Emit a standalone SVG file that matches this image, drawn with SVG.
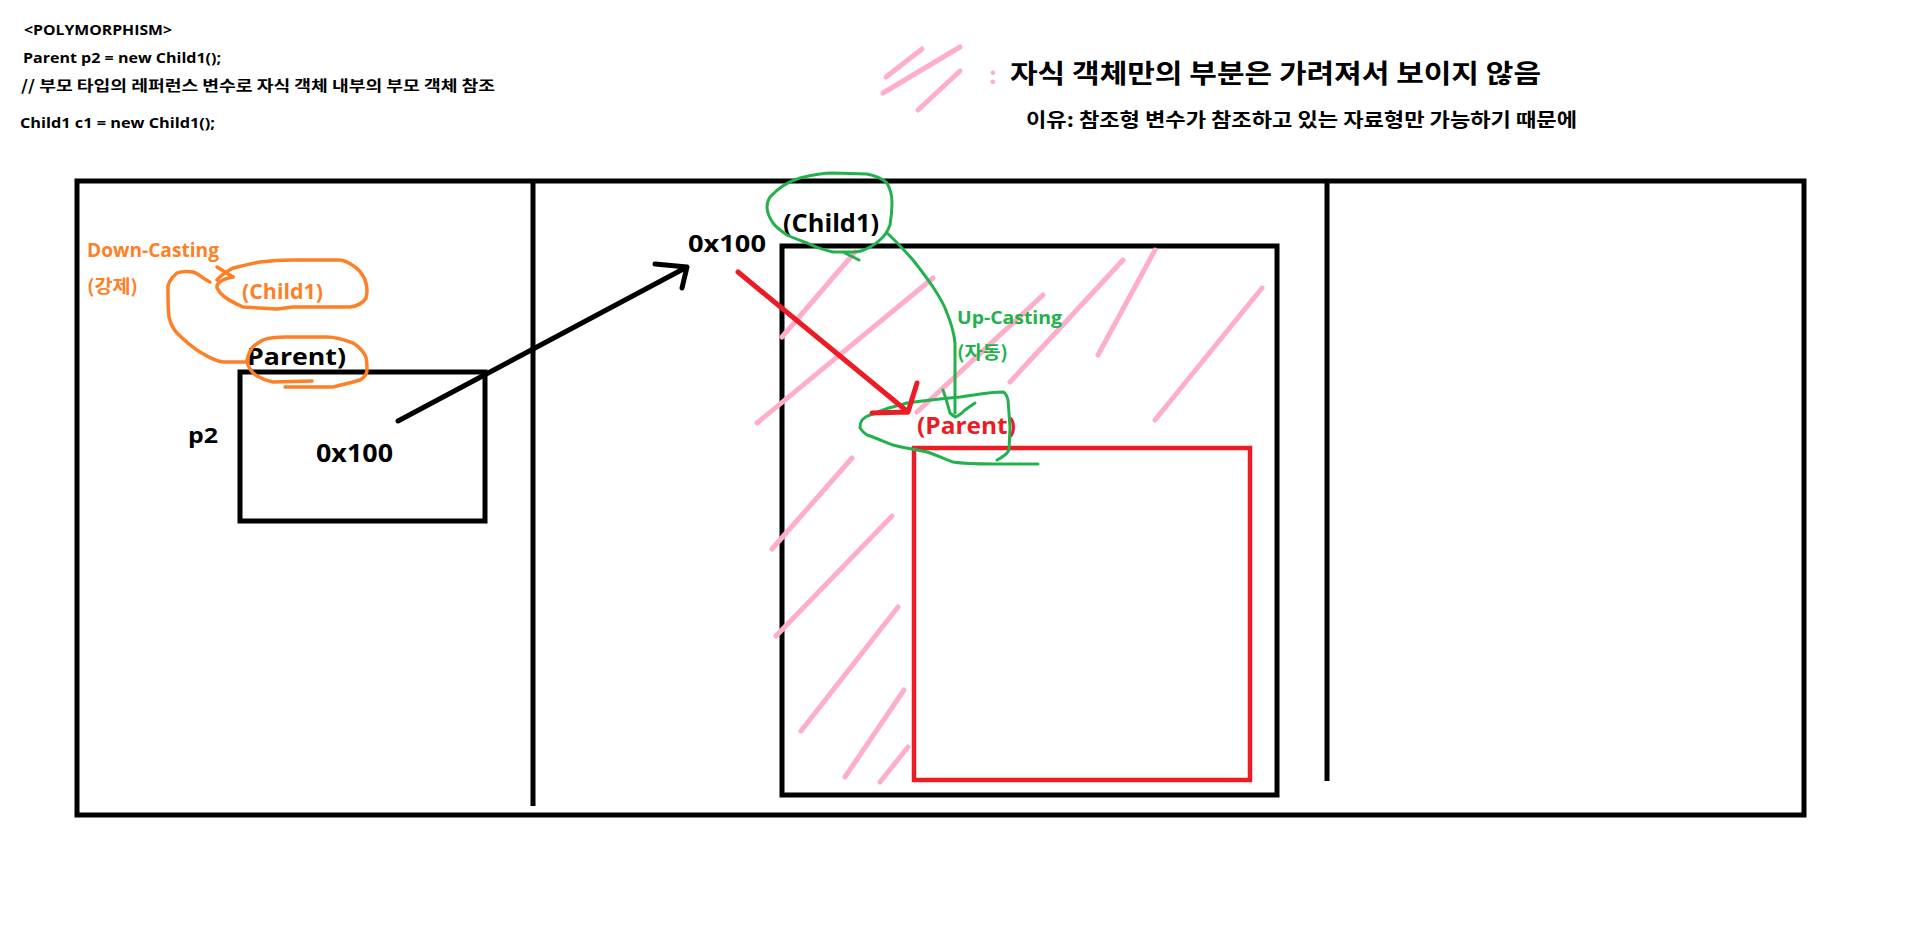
<svg xmlns="http://www.w3.org/2000/svg" width="1914" height="930" viewBox="0 0 1914 930">
<style>
.t{font-family:"Open Sans","Noto Sans CJK KR",sans-serif;font-weight:bold}
.k{font-family:"Noto Sans CJK KR","Open Sans",sans-serif;font-weight:bold}
.blk{fill:none;stroke:#000;stroke-width:5}
.red{fill:none;stroke:#ED1C24;stroke-width:5}
.pink{fill:none;stroke:#FFAEC9;stroke-width:5;stroke-linecap:round}
.grn{fill:none;stroke:#22B14C;stroke-width:3;stroke-linecap:round;stroke-linejoin:round}
.org{fill:none;stroke:#FF7F27;stroke-width:3.5;stroke-linecap:round;stroke-linejoin:round}
</style>
<rect width="1914" height="930" fill="#fff"/>
<g id="header">
<text class="t" x="24" y="35" font-size="15" textLength="148" lengthAdjust="spacingAndGlyphs">&lt;POLYMORPHISM&gt;</text>
<text class="t" x="23" y="63" font-size="15" textLength="198" lengthAdjust="spacingAndGlyphs">Parent p2 = new Child1();</text>
<text class="k" x="21" y="91" font-size="15" textLength="474" lengthAdjust="spacingAndGlyphs">// 부모 타입의 레퍼런스 변수로 자식 객체 내부의 부모 객체 참조</text>
<text class="t" x="20" y="128" font-size="15" textLength="195" lengthAdjust="spacingAndGlyphs">Child1 c1 = new Child1();</text>
</g>
<g id="legend">
<path class="pink" d="M886 77 L922 49 M883 93 L960 47 M918 110 L960 71"/>
<text class="k" x="989" y="84" font-size="24" fill="#FFAEC9">:</text>
<text class="k" x="1010" y="83" font-size="26" textLength="531" lengthAdjust="spacingAndGlyphs">자식 객체만의 부분은 가려져서 보이지 않음</text>
<text class="k" x="1026" y="127" font-size="19" textLength="551" lengthAdjust="spacingAndGlyphs">이유: 참조형 변수가 참조하고 있는 자료형만 가능하기 때문에</text>
</g>
<g id="memory-frame">
<rect class="blk" x="77" y="181" width="1727" height="634"/>
<line class="blk" x1="533" y1="181" x2="533" y2="806"/>
<line class="blk" x1="1327" y1="181" x2="1327" y2="781"/>
</g>
<g id="p2-box">
<rect class="blk" x="240" y="372" width="245" height="149"/>
<text class="t" x="188" y="443" font-size="22" textLength="30" lengthAdjust="spacingAndGlyphs">p2</text>
<text class="t" x="316" y="462" font-size="25" textLength="77" lengthAdjust="spacingAndGlyphs">0x100</text>
<text class="t" x="247" y="365" font-size="23" textLength="99" lengthAdjust="spacingAndGlyphs">Parent)</text>
</g>
<g id="down-casting">
<text class="t" x="87" y="257" font-size="19" fill="#FF7F27" textLength="132" lengthAdjust="spacingAndGlyphs">Down-Casting</text>
<text class="k" x="87" y="293" font-size="18" fill="#FF7F27" textLength="51" lengthAdjust="spacingAndGlyphs">(강제)</text>
<text class="t" x="242" y="299" font-size="22" fill="#FF7F27" textLength="81" lengthAdjust="spacingAndGlyphs">(Child1)</text>
<path class="org" d="M217 267 L233 277"/>
<path class="org" d="M233 277 C222 279 216 283 217 288 C220 294 225 299 243 307 L277 309 L293 307 L350 307 C358 306 363 303 366 298 C368 290 367 285 365 280 C362 273 358 269 355 267 C348 262 342 260 340 260 L293 260 C278 260 268 261 260 262 C248 264 238 267 233 268 C226 272 220 276 217 280"/>
<path class="org" d="M210 282 C203 279 198 273 193 272 C187 271 182 271 177 273 C170 279 167 285 168 290 C168 300 168 310 169 317 C171 325 173 329 177 333 C185 341 192 347 200 352 C208 357 215 361 223 362 L247 362"/>
<path class="org" d="M285 387 L333 387 C345 384 354 382 360 380 C365 377 367 374 367 370 C367 363 367 358 365 355 C362 350 358 346 353 343 C345 340 336 337 327 337 L287 337 C276 337 268 338 263 340 C258 343 254 345 252 348 C249 353 247 357 247 362 C249 369 252 373 257 376 C262 379 267 381 273 382 L312 381"/>
</g>
<g id="child1-object">
<rect class="blk" x="782" y="246" width="495" height="549"/>
<text class="t" x="783" y="232" font-size="25" textLength="96" lengthAdjust="spacingAndGlyphs">(Child1)</text>
<text class="t" x="688" y="252" font-size="24" textLength="78" lengthAdjust="spacingAndGlyphs">0x100</text>
</g>
<g id="hatching">
<path class="pink" d="M855 252 L782 337 M933 278 L757 423 M1043 295 L917 412 M1123 260 L1010 382 M1155 250 L1098 355 M1262 288 L1155 420 M852 458 L772 549 M892 516 L776 636 M898 607 L801 731 M904 690 L845 777 M908 747 L880 782"/>
</g>
<g id="parent-object">
<rect x="914" y="448" width="336" height="332" fill="none" stroke="#ED1C24" stroke-width="4.5"/>
<text class="t" x="917" y="434" font-size="24" fill="#ED1C24" textLength="99" lengthAdjust="spacingAndGlyphs">(Parent)</text>
</g>
<g id="up-casting">
<text class="t" x="957" y="324" font-size="18" fill="#22B14C" textLength="105" lengthAdjust="spacingAndGlyphs">Up-Casting</text>
<text class="k" x="957" y="359" font-size="18" fill="#22B14C" textLength="51" lengthAdjust="spacingAndGlyphs">(자동)</text>
<path class="grn" d="M770 197 C780 186 790 181 800 178 C812 175 822 173 833 173 L867 174 C877 176 883 179 887 183 C891 190 892 196 892 203 C892 212 891 219 890 225 C888 230 886 234 883 237 C878 242 873 246 868 248 C863 251 858 252 853 252 L833 252 C824 250 815 247 807 243 C800 240 793 238 787 235 C781 231 776 227 773 223 C769 217 767 212 767 207 C767 203 768 200 770 197 Z"/>
<path class="grn" d="M845 253 L859 260"/>
<path class="grn" d="M887 233 C897 242 905 251 913 260 C920 269 927 278 933 287 C939 296 944 304 947 313 C951 323 954 333 955 343 L955 413"/>
<path class="grn" d="M943 390 C946 398 948 406 950 413 L955 417 C959 416 962 413 965 410 C969 407 972 405 975 403"/>
<path class="grn" d="M997 460 C1003 457 1007 454 1009 450 L1010 427 L1008 400 C1007 396 1006 393 1003 392 C990 392 975 395 960 397 C940 399 922 401 907 403 C894 406 882 410 870 415 C866 416 864 418 862 420 C860 423 860 426 860 428 C862 431 864 433 867 435 C876 438 885 442 893 445 C905 448 917 450 927 452 C936 455 945 459 953 462 C966 464 980 464 993 464 L1038 464"/>
</g>
<g id="connectors">
<path class="blk" stroke-linecap="round" stroke-linejoin="round" d="M398 421 L687 267 M655 264 L687 267 L682 288"/>
<path class="red" stroke-linecap="round" stroke-linejoin="round" d="M738 272 L908 412 M917 383 L908 412 L872 413"/>
</g>
</svg>
